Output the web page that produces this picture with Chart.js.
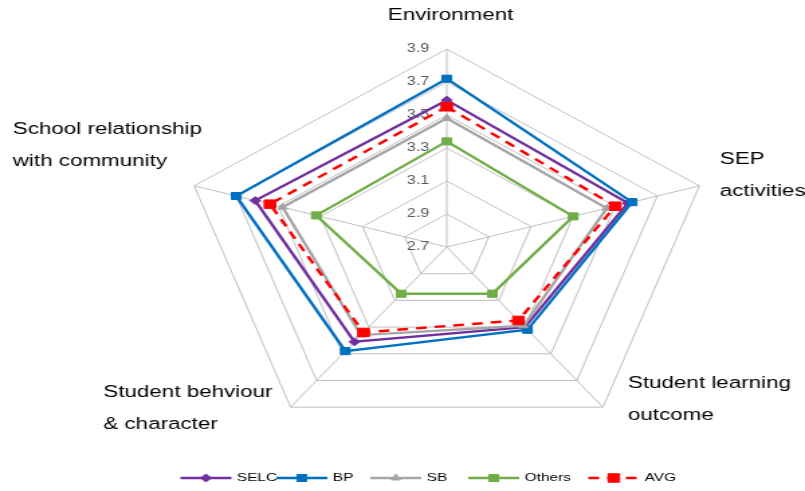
<!DOCTYPE html>
<html>
<head>
<meta charset="utf-8">
<title>Radar</title>
<script src="https://cdn.jsdelivr.net/npm/chart.js@4.4.1/dist/chart.umd.min.js"></script>
<style>
  html, body { margin: 0; padding: 0; background: #fff; }
  #wrap { width: 805px; height: 491px; overflow: hidden; }
</style>
</head>
<body>
<div id="wrap">
  <!-- drawn at 600 wide, stretched to 805 like the original figure -->
  <canvas id="radar" width="600" height="491" style="width:805px;height:491px"></canvas>
</div>
<script>
const categories = [
  ['Environment'],
  ['SEP', 'activities'],
  ['Student learning', 'outcome'],
  ['Student behviour', '& character'],
  ['School relationship', 'with community']
];
const selc   = [3.59, 3.56, 3.30, 3.41, 3.61];
const bp     = [3.72, 3.58, 3.32, 3.48, 3.70];
const sb     = [3.48, 3.46, 3.29, 3.36, 3.48];
const others = [3.34, 3.30, 3.05, 3.05, 3.32];
const avg    = [3.55, 3.50, 3.25, 3.34, 3.54];
const tickValues = [2.7, 2.9, 3.1, 3.3, 3.5, 3.7, 3.9];

const FONT = '"Liberation Sans", Arial, sans-serif';
const GRID = '#bfbfbf';

// where each category label sits (left edge, first line middle)
const labelPos = [
  { x: 289, y: 15 },
  { x: 536.5, y: 159 },
  { x: 468, y: 383 },
  { x: 77, y: 392 },
  { x: 9.5, y: 129 }
];
// legend: text left edge per series
const legendX = [176.5, 248, 318, 391, 480.5];
const legendY = 478;

const labelsPlugin = {
  id: 'radarText',
  beforeDatasetsDraw(chart) {
    const ctx = chart.ctx;
    const r = chart.scales.r;
    ctx.save();
    ctx.font = '12px ' + FONT;
    ctx.fillStyle = '#595959';
    ctx.textAlign = 'right';
    ctx.textBaseline = 'middle';
    r.ticks.forEach(t => {
      const d = r.getDistanceFromCenterForValue(t.value);
      ctx.fillText(t.value.toFixed(1), r.xCenter - 13, r.yCenter - d);
    });
    ctx.restore();
  },
  afterDraw(chart) {
    const ctx = chart.ctx;
    ctx.save();
    ctx.font = '16.7px ' + FONT;
    ctx.fillStyle = '#000';
    ctx.textAlign = 'left';
    ctx.textBaseline = 'middle';
    chart.data.labels.forEach((lines, i) => {
      lines.forEach((ln, j) => ctx.fillText(ln, labelPos[i].x, labelPos[i].y + j * 32));
    });

    // legend with line + marker samples
    ctx.font = '11.5px ' + FONT;
    chart.data.datasets.forEach((ds, i) => {
      const tx = legendX[i];
      const x0 = tx - 42, x1 = tx - 4;
      ctx.save();
      ctx.strokeStyle = ds.borderColor;
      ctx.lineWidth = ds.borderWidth;
      ctx.setLineDash(ds.borderDash || []);
      ctx.beginPath();
      ctx.moveTo(x0, legendY);
      ctx.lineTo(x1, legendY);
      ctx.stroke();
      ctx.setLineDash([]);
      ctx.fillStyle = ds.backgroundColor;
      ctx.lineWidth = 1;
      Chart.helpers.drawPoint(ctx, { pointStyle: ds.pointStyle, radius: ds.pointRadius, rotation: 0, borderWidth: 1 }, (x0 + x1) / 2, legendY);
      ctx.restore();
      ctx.fillStyle = '#000';
      ctx.fillText(ds.label, tx, legendY);
    });
    ctx.restore();
  }
};

function series(label, data, color, style, radius, order, dash) {
  return {
    label, data,
    borderColor: color,
    backgroundColor: color,
    pointBackgroundColor: color,
    pointBorderColor: color,
    pointBorderWidth: 1,
    pointStyle: style,
    pointRadius: radius,
    borderWidth: 2.4,
    borderDash: dash,
    fill: false,
    order
  };
}

new Chart(document.getElementById('radar'), {
  type: 'radar',
  data: {
    labels: categories,
    datasets: [
      series('SELC', selc, '#7030a0', 'rectRot', 4, 4),
      series('BP', bp, '#0070c0', 'rect', 5, 3),
      series('SB', sb, '#a6a6a6', 'triangle', 4, 2),
      series('Others', others, '#70ad47', 'rect', 5, 1),
      series('AVG', avg, '#ff0000', 'rect', 6, 0, [8, 6])
    ]
  },
  options: {
    responsive: false,
    animation: false,
    layout: { padding: { left: 135, right: 69, top: 49, bottom: 46 } },
    plugins: { legend: { display: false }, tooltip: { enabled: false } },
    scales: {
      r: {
        min: 2.7,
        max: 3.9,
        afterBuildTicks: (scale) => { scale.ticks = tickValues.map(v => ({ value: v })); },
        ticks: { display: false },
        grid: { color: GRID, lineWidth: 1 },
        angleLines: { color: GRID, lineWidth: 1 },
        pointLabels: { display: false }
      }
    }
  },
  plugins: [labelsPlugin]
});
</script>
</body>
</html>
